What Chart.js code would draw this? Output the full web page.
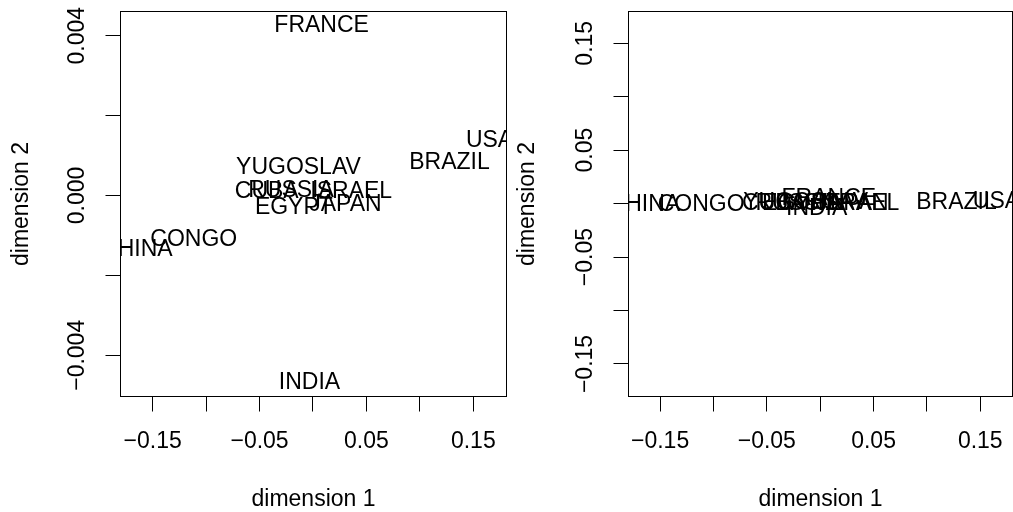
<!DOCTYPE html>
<html>
<head>
<meta charset="utf-8">
<script src="https://cdn.jsdelivr.net/npm/chart.js@4.4.1/dist/chart.umd.min.js"></script>
<style>
  html, body { margin: 0; padding: 0; background: #fff; }
  body { width: 1013px; height: 512px; position: relative; overflow: hidden; }
  canvas { position: absolute; top: 0; }
  #left { left: 0; }
  #right { left: 506px; }
</style>
</head>
<body>
<canvas id="left" width="510" height="512"></canvas>
<canvas id="right" width="507" height="512"></canvas>
<script>
// Nations configuration: coordinates on the first two dimensions
const countries = ['BRAZIL', 'CONGO', 'CUBA', 'EGYPT', 'FRANCE', 'INDIA',
                   'ISRAEL', 'JAPAN', 'CHINA', 'RUSSIA', 'USA', 'YUGOSLAV'];
const dim1 = [0.1277, -0.1116, -0.0433, -0.0179, 0.0081, -0.0033,
              0.0358, 0.0303, -0.1648, -0.0206, 0.1652, -0.0136];
const dim2 = [0.00082, -0.00110, 0.000105, -0.00031, 0.00426, -0.00469,
              0.000095, -0.00024, -0.00135, 0.00013, 0.001377, 0.000696];

// Axis ticks and their printed labels (blank = tick mark only)
const xTicks = [-0.15, -0.10, -0.05, 0, 0.05, 0.10, 0.15];
const xTickLabels = ['\u22120.15', '', '\u22120.05', '', '0.05', '', '0.15'];
const yTicksLeft = [-0.004, -0.002, 0, 0.002, 0.004];
const yTickLabelsLeft = ['\u22120.004', '', '0.000', '', '0.004'];
const yTicksRight = [-0.15, -0.10, -0.05, 0, 0.05, 0.10, 0.15];
const yTickLabelsRight = ['\u22120.15', '', '\u22120.05', '', '0.05', '', '0.15'];

// Axis limits of the two panels
const leftXRange = [-0.18013, 0.18107];
const leftYRange = [-0.005031, 0.004606];
const rightXRange = [-0.1796, 0.1802];
const rightYRange = [-0.1804, 0.1797];

const FAMILY = "'Liberation Sans', Arial, Helvetica, sans-serif";
const SIZE = 23;
const TICK_LEN = 15;
const LABEL_GAP = 43; // distance from the frame to the centre of the y tick labels

function textWidth(strings) {
  const c = document.createElement('canvas').getContext('2d');
  c.font = SIZE + 'px ' + FAMILY;
  return Math.max(...strings.map(s => c.measureText(s).width));
}

// Country names drawn at each point, clipped to the plotting region, plus the frame
const textLabels = {
  id: 'textLabels',
  afterDatasetsDraw(chart) {
    const { ctx, chartArea: a } = chart;
    const meta = chart.getDatasetMeta(0);
    ctx.save();
    ctx.beginPath();
    ctx.rect(a.left, a.top, a.right - a.left, a.bottom - a.top);
    ctx.clip();
    ctx.font = SIZE + 'px ' + FAMILY;
    ctx.fillStyle = '#000';
    ctx.textAlign = 'center';
    ctx.textBaseline = 'middle';
    meta.data.forEach((pt, i) => ctx.fillText(countries[i], pt.x, pt.y));
    ctx.restore();
    ctx.save();
    ctx.strokeStyle = '#000';
    ctx.lineWidth = 1;
    ctx.strokeRect(a.left, a.top, a.right - a.left, a.bottom - a.top);
    ctx.restore();
  }
};

function noOverhang(s) {
  s.paddingTop = 0; s.paddingBottom = 0; s.paddingLeft = 0; s.paddingRight = 0;
}

function panel(id, opts) {
  const pts = dim1.map((x, i) => ({ x: x, y: dim2[i] }));
  const yPad = LABEL_GAP - TICK_LEN - textWidth(opts.yLabels) / 2;
  const font = { family: FAMILY, size: SIZE };
  const grid = { display: true, drawOnChartArea: false, drawTicks: true,
                 tickLength: TICK_LEN, color: '#000', lineWidth: 1 };
  return new Chart(document.getElementById(id), {
    type: 'scatter',
    data: { datasets: [{ data: pts, pointRadius: 0, pointHoverRadius: 0 }] },
    options: {
      responsive: false,
      animation: false,
      devicePixelRatio: 1,
      events: [],
      layout: { padding: { left: 0, top: 11.5, right: opts.rightPad, bottom: 0 } },
      plugins: { legend: { display: false }, tooltip: { enabled: false } },
      scales: {
        x: {
          type: 'linear', position: 'bottom', bounds: 'data',
          min: opts.xRange[0], max: opts.xRange[1],
          afterBuildTicks: s => { s.ticks = xTicks.map(v => ({ value: v })); },
          afterFit: s => { s.height = 115.5; noOverhang(s); },
          grid: grid,
          border: { display: false },
          ticks: { autoSkip: false, maxRotation: 0, minRotation: 0, padding: 16,
                   color: '#000', font: font, callback: (v, i) => xTickLabels[i] },
          title: { display: true, text: 'dimension 1', color: '#000',
                   font: { family: FAMILY, size: SIZE, lineHeight: 1 },
                   padding: { top: 0, bottom: 0.5 } }
        },
        y: {
          type: 'linear', position: 'left', bounds: 'data',
          min: opts.yRange[0], max: opts.yRange[1],
          afterBuildTicks: s => { s.ticks = opts.yTicks.map(v => ({ value: v })); },
          afterFit: s => { s.width = opts.yAxisWidth; noOverhang(s); },
          grid: grid,
          border: { display: false },
          ticks: { autoSkip: false, minRotation: 90, maxRotation: 90, crossAlign: 'center',
                   padding: yPad, color: '#000', font: font,
                   callback: (v, i) => opts.yLabels[i] },
          title: { display: true, text: 'dimension 2', color: '#000',
                   font: { family: FAMILY, size: SIZE, lineHeight: 1 },
                   padding: { top: 10.2, bottom: 0 } }
        }
      }
    },
    plugins: [textLabels]
  });
}

panel('left', { xRange: leftXRange, yRange: leftYRange, yTicks: yTicksLeft,
                yLabels: yTickLabelsLeft, yAxisWidth: 120.5, rightPad: 3.5 });
panel('right', { xRange: rightXRange, yRange: rightYRange, yTicks: yTicksRight,
                 yLabels: yTickLabelsRight, yAxisWidth: 122.5, rightPad: 0.5 });
</script>
</body>
</html>
